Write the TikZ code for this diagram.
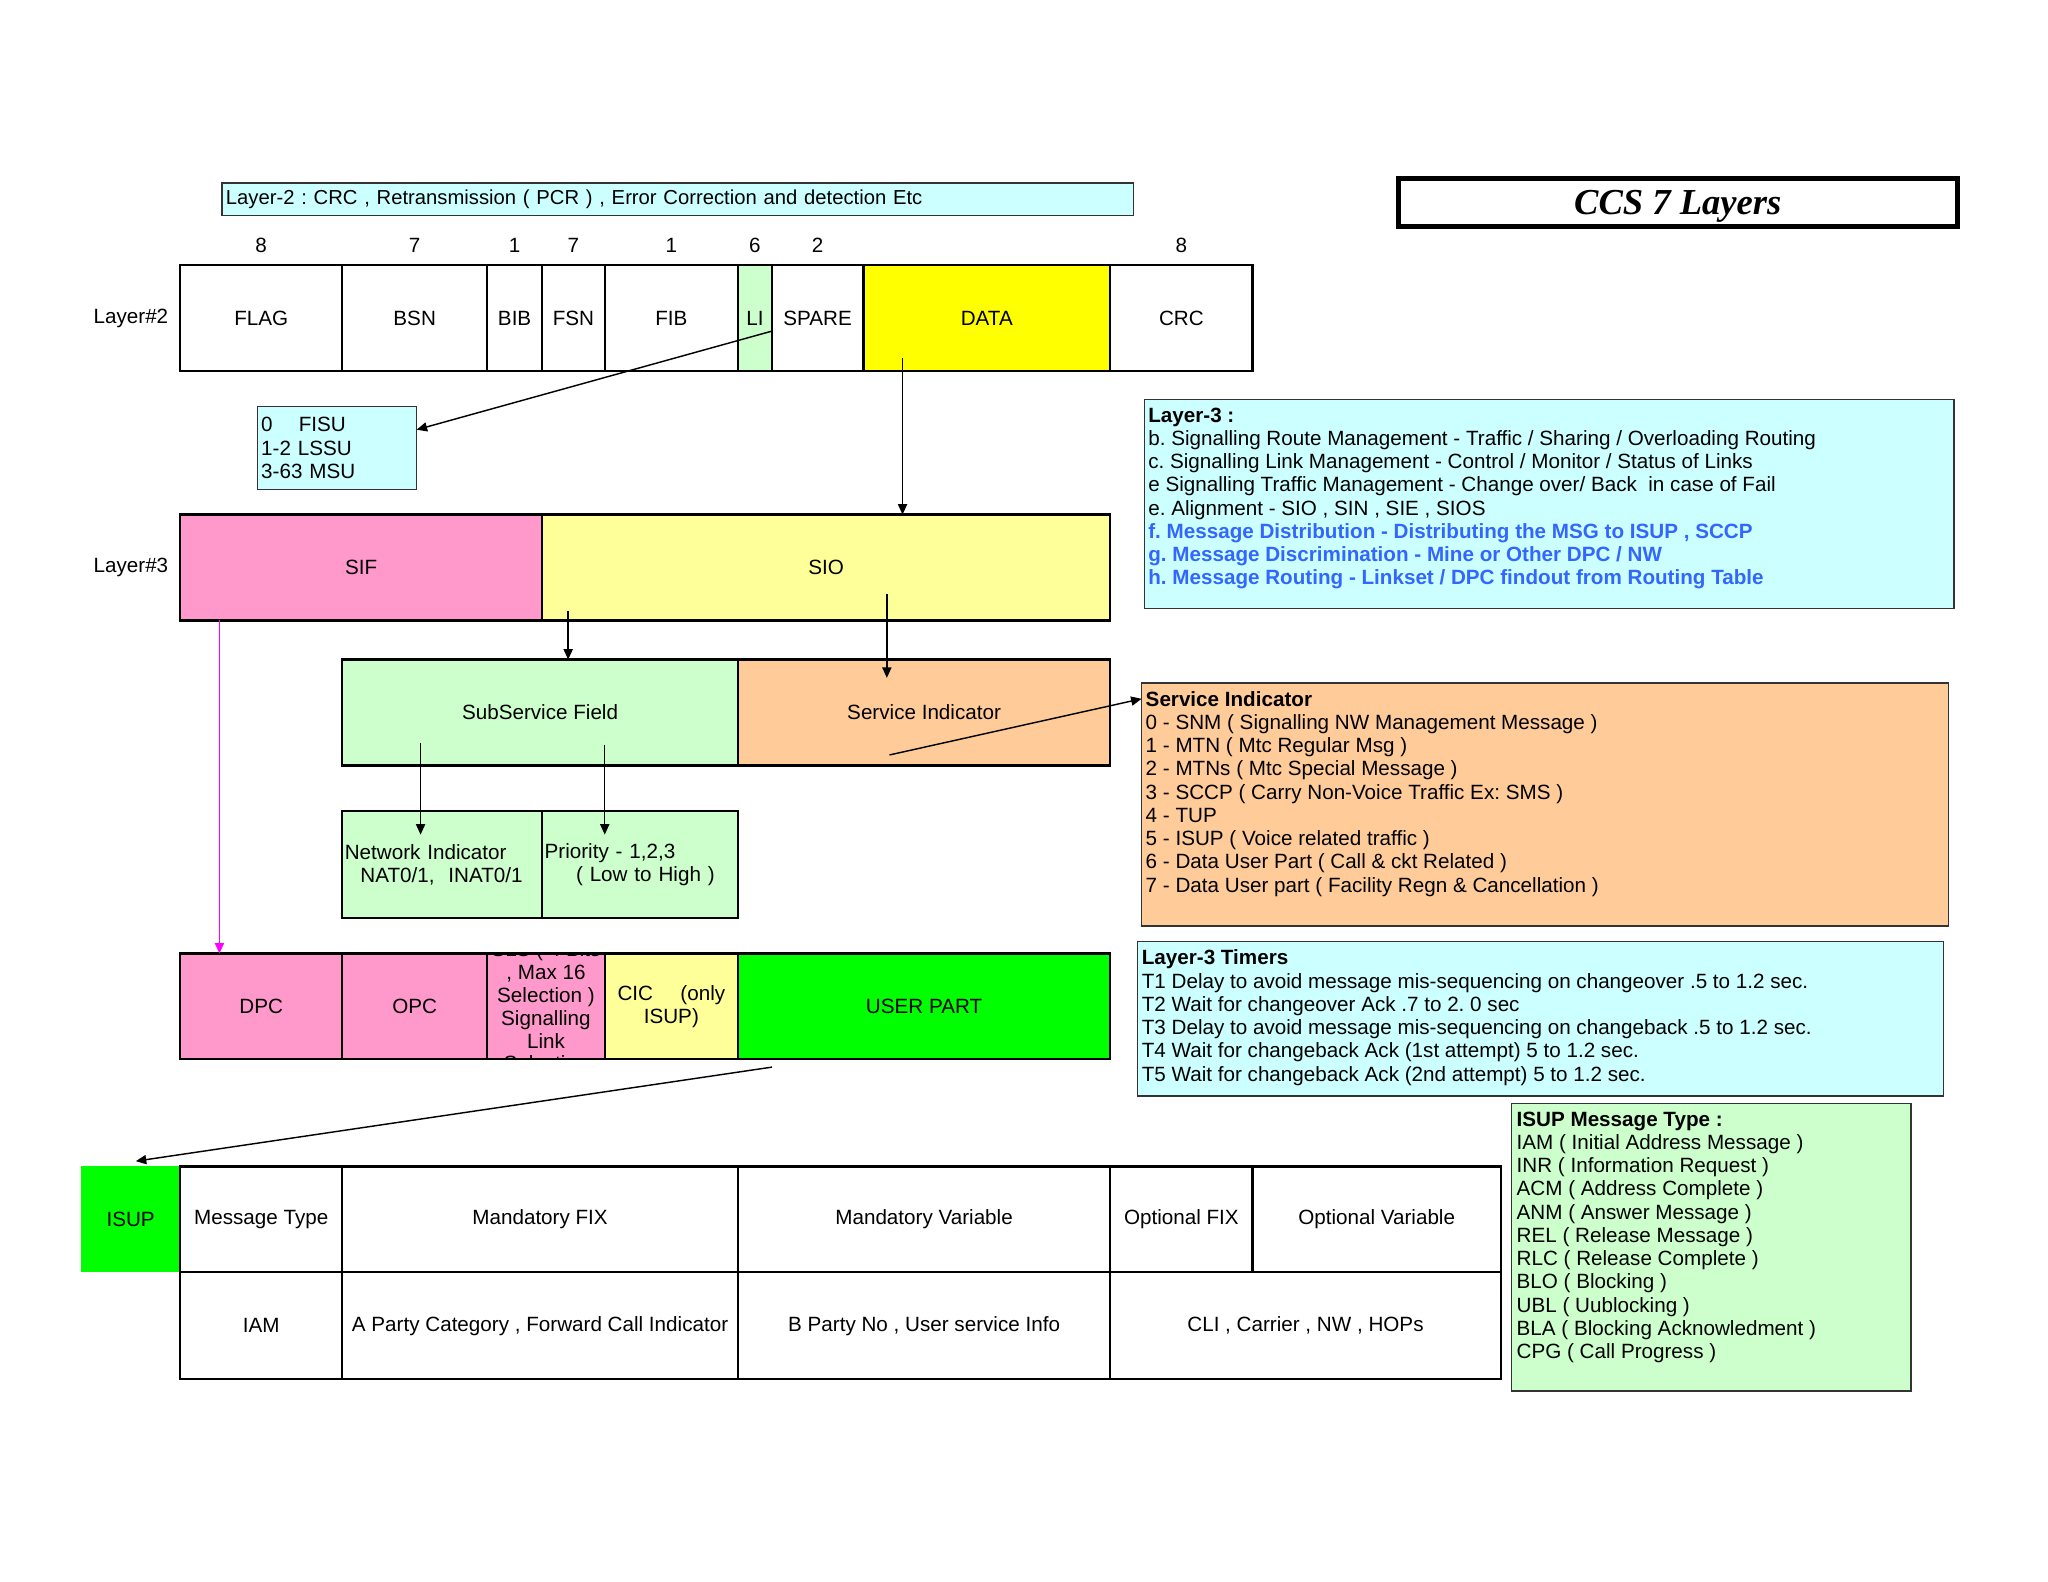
\documentclass[tikz,border=0pt]{standalone}
\usepackage{fontspec}
\setmainfont{Liberation Sans}
\newfontfamily\titlefont{Liberation Serif}
\usetikzlibrary{arrows.meta,positioning,calc}
\definecolor{ccsCyan}{RGB}{204,255,255}
\definecolor{ccsPink}{RGB}{255,153,204}
\definecolor{ccsLemon}{RGB}{255,255,153}
\definecolor{ccsYellow}{RGB}{255,255,0}
\definecolor{ccsMint}{RGB}{204,255,204}
\definecolor{ccsPeach}{RGB}{255,204,153}
\definecolor{ccsGreen}{RGB}{0,255,0}
\definecolor{ccsBlue}{RGB}{51,102,255}
\definecolor{ccsMagenta}{RGB}{255,0,255}
\frenchspacing

\begin{document}
\begin{tikzpicture}[x=1pt, y=-1pt,
      cellbox/.style={rectangle, draw=black, line width=1.8pt, outer sep=0pt,
        inner sep=1pt, minimum height=81pt, align=center,
        font=\fontsize{15.8}{17.6}\selectfont},
      leftcell/.style={cellbox, align=left, inner xsep=2pt},
      notebox/.style={rectangle, draw=black!80, line width=1pt, outer sep=0pt,
        inner sep=0pt, anchor=north west},
      notetext/.style={anchor=north west, align=left, inner sep=0pt,
        font=\fontsize{15.8}{17.8}\selectfont},
      titlebox/.style={rectangle, draw=black, line width=3.5pt, fill=white,
        minimum width=428pt, minimum height=37pt, text depth=0pt,
        font=\titlefont\fontsize{28}{30}\selectfont\bfseries\itshape},
      rowlbl/.style={anchor=east, inner sep=0pt, font=\fontsize{15.8}{17.6}\selectfont},
      bitnum/.style={inner sep=0pt, font=\fontsize{15.8}{17.6}\selectfont},
      arr/.style={-{Triangle[length=8pt,width=7pt]}, line width=1.1pt},
    ]
    \useasboundingbox (0,0) rectangle (1568,1211);

    % ---- Title and Layer-2 note ----
    \node[titlebox] (title) at (1284.5,155) {CCS 7 Layers};
    \node[notebox, fill=ccsCyan, minimum width=698pt, minimum height=25pt,
      text width=692pt, inner xsep=3pt, align=left,
      font=\fontsize{15.5}{17.6}\selectfont] (l2note) at (170,140)
      {Layer-2 : CRC , Retransmission ( PCR ) , Error Correction and detection Etc};

    % ---- Layer#2 signal unit ----
    \node[cellbox, minimum width=124pt, anchor=north west] (flag) at (138,203) {FLAG};
    \node[cellbox, minimum width=111pt, right=0pt of flag] (bsn) {BSN};
    \node[cellbox, minimum width=42pt, right=0pt of bsn] (bib) {BIB};
    \node[cellbox, minimum width=48pt, right=0pt of bib] (fsn) {FSN};
    \node[cellbox, minimum width=102pt, right=0pt of fsn] (fib) {FIB};
    \node[cellbox, minimum width=26pt, fill=ccsMint, right=0pt of fib] (li) {LI};
    \node[cellbox, minimum width=70pt, right=0pt of li] (spare) {SPARE};
    \node[cellbox, minimum width=189pt, fill=ccsYellow, right=0pt of spare] (data) {DATA};
    \node[cellbox, minimum width=109pt, right=0pt of data] (crc) {CRC};
    \node[rowlbl] (l2lbl) at ([xshift=-9pt]flag.west) {Layer\#2};
    \foreach \c/\b in {flag/8, bsn/7, bib/1, fsn/7, fib/1, li/6, spare/2, crc/8}
      \node[bitnum] (bit\c) at ([yshift=15pt]\c.north) {\b};

    \node[notebox, fill=ccsCyan, minimum width=122pt, minimum height=64pt,
      text width=116pt, inner xsep=3pt, align=left,
      font=\fontsize{15.8}{17.8}\selectfont] (fisu) at (197,311)
      {0\hspace{20pt}FISU\\1-2 LSSU\\3-63 MSU};

    % ---- Layer#3 ----
    \node[cellbox, minimum width=277pt, fill=ccsPink, anchor=north west] (sif) at (138,394) {SIF};
    \node[cellbox, minimum width=435pt, fill=ccsLemon, right=0pt of sif] (sio) {SIO};
    \node[rowlbl] (l3lbl) at ([xshift=-9pt]sif.west) {Layer\#3};

    \node[cellbox, minimum width=303pt, fill=ccsMint, anchor=north west] (ssf) at (262,505) {SubService Field};
    \node[cellbox, minimum width=285pt, fill=ccsPeach, right=0pt of ssf] (si) {Service Indicator};

    \node[leftcell, minimum width=153pt, minimum height=82pt, text width=149pt,
      fill=ccsMint, anchor=north west] (ni) at (262,621)
      {Network Indicator\\\hspace*{12pt}NAT0/1,\ \ INAT0/1};
    \node[leftcell, minimum width=150pt, minimum height=82pt, text width=146pt,
      fill=ccsMint, right=0pt of ni] (pri)
      {Priority - 1,2,3\\\hspace*{24pt}( Low to High )};

    % ---- Routing label ----
    \node[cellbox, minimum width=124pt, fill=ccsPink, anchor=north west] (dpc) at (138,730) {DPC};
    \node[cellbox, minimum width=111pt, fill=ccsPink, right=0pt of dpc] (opc) {OPC};
    \node[cellbox, minimum width=90pt, fill=ccsPink, right=0pt of opc] (sls) {};
    \node[cellbox, minimum width=102pt, fill=ccsLemon, right=0pt of sls] (cic) {CIC\hspace{21pt}(only\\ISUP)};
    \node[cellbox, minimum width=285pt, fill=ccsGreen, right=0pt of cic] (upart) {USER PART};
    \begin{scope}
      \clip (sls.north west) rectangle (sls.south east);
      \node[bitnum, align=center, font=\fontsize{15.8}{17.5}\selectfont] (slslbl) at (sls.center)
        {SLS ( 4 Bits\\, Max 16\\Selection )\\Signalling\\Link\\Selection};
    \end{scope}

    % ---- ISUP message ----
    \node[cellbox, draw=none, minimum width=76pt, fill=ccsGreen, anchor=north west] (isup) at (62,893) {ISUP};
    \node[cellbox, minimum width=124pt, anchor=north west] (mtype) at (138,893) {Message Type};
    \node[cellbox, minimum width=303pt, right=0pt of mtype] (mfix) {Mandatory FIX};
    \node[cellbox, minimum width=285pt, right=0pt of mfix] (mvar) {Mandatory Variable};
    \node[cellbox, minimum width=109pt, right=0pt of mvar] (ofix) {Optional FIX};
    \node[cellbox, minimum width=190pt, right=0pt of ofix] (ovar) {Optional Variable};
    \node[cellbox, minimum width=124pt, minimum height=82pt, anchor=north west] (iam) at (138,974) {IAM};
    \node[cellbox, minimum width=303pt, minimum height=82pt, right=0pt of iam] (apc) {A Party Category , Forward Call Indicator};
    \node[cellbox, minimum width=285pt, minimum height=82pt, right=0pt of apc] (bpn) {B Party No , User service Info};
    \node[cellbox, minimum width=299pt, minimum height=82pt, right=0pt of bpn] (cli) {CLI , Carrier , NW , HOPs};

    % ---- Notes on the right ----
    \node[notebox, fill=ccsCyan, minimum width=620pt, minimum height=160pt] (l3box) at (876,306) {};
    \node[notetext] (l3text) at ([shift={(3pt,-6pt)}]l3box.north west)
      {\textbf{Layer-3 :}\\
       b. Signalling Route Management - Traffic / Sharing / Overloading Routing\\
       c. Signalling Link Management - Control / Monitor / Status of Links\\
       e Signalling Traffic Management - Change over/ Back\ \ in case of Fail\\
       e. Alignment - SIO , SIN , SIE , SIOS\\
       \textcolor{ccsBlue}{\textbf{f. Message Distribution - Distributing the MSG to ISUP , SCCP}}\\
       \textcolor{ccsBlue}{\textbf{g. Message Discrimination - Mine or Other DPC / NW}}\\
       \textcolor{ccsBlue}{\textbf{h. Message Routing - Linkset / DPC findout from Routing Table}}};

    \node[notebox, fill=ccsPeach, minimum width=618pt, minimum height=186pt] (sibox) at (874,523) {};
    \node[notetext] (sitext) at ([shift={(3pt,-6pt)}]sibox.north west)
      {\textbf{Service Indicator}\\
       0 - SNM ( Signalling NW Management Message )\\
       1 - MTN ( Mtc Regular Msg )\\
       2 - MTNs ( Mtc Special Message )\\
       3 - SCCP ( Carry Non-Voice Traffic Ex: SMS )\\
       4 - TUP\\
       5 - ISUP ( Voice related traffic )\\
       6 - Data User Part ( Call \& ckt Related )\\
       7 - Data User part ( Facility Regn \& Cancellation )};

    \node[notebox, fill=ccsCyan, minimum width=617pt, minimum height=118pt] (tmbox) at (871,721) {};
    \node[notetext] (tmtext) at ([shift={(3pt,-6pt)}]tmbox.north west)
      {\textbf{Layer-3 Timers}\\
       T1 Delay to avoid message mis-sequencing on changeover .5 to 1.2 sec.\\
       T2 Wait for changeover Ack .7 to 2. 0 sec\\
       T3 Delay to avoid message mis-sequencing on changeback .5 to 1.2 sec.\\
       T4 Wait for changeback Ack (1st attempt) 5 to 1.2 sec.\\
       T5 Wait for changeback Ack (2nd attempt) 5 to 1.2 sec.};

    \node[notebox, fill=ccsMint, minimum width=306pt, minimum height=220pt] (mtbox) at (1157,845) {};
    \node[notetext] (mttext) at ([shift={(4pt,-6pt)}]mtbox.north west)
      {\textbf{ISUP Message Type :}\\
       IAM ( Initial Address Message )\\
       INR ( Information Request )\\
       ACM ( Address Complete )\\
       ANM ( Answer Message )\\
       REL ( Release Message )\\
       RLC ( Release Complete )\\
       BLO ( Blocking )\\
       UBL ( Uublocking )\\
       BLA ( Blocking Acknowledment )\\
       CPG ( Call Progress )};

    % ---- Connectors ----
    \coordinate (liout) at ([yshift=-10pt]spare.west);
    \coordinate (dataout) at ([shift={(30pt,10pt)}]data.south west);
    \coordinate (sioout1) at ([shift={(20pt,7pt)}]sio.south west);
    \coordinate (sioout2) at ([shift={(-171pt,20pt)}]sio.south east);
    \coordinate (siout) at ([shift={(116pt,8pt)}]si.south west);
    \coordinate (ssfout1) at ([shift={(60pt,17pt)}]ssf.south west);
    \coordinate (ssfout2) at ([shift={(201pt,16pt)}]ssf.south west);
    \coordinate (sifout) at ([xshift=30pt]sif.south west);
    \coordinate (upout) at ([shift={(26pt,-6pt)}]upart.south west);

    \draw[arr] (liout) -- ([yshift=14pt]fisu.east);
    \draw[arr] (dataout) -- (dataout |- sio.north);
    \draw[arr] (sioout1) -- (sioout1 |- ssf.north);
    \draw[arr] (sioout2) -- ($(sioout2 |- si.north)+(0,14)$);
    \draw[arr] (siout) -- ([yshift=-12pt]sibox.north west);
    \draw[arr] (ssfout1) -- ($(ssfout1 |- ni.north)+(0,18)$);
    \draw[arr] (ssfout2) -- ($(ssfout2 |- pri.north)+(0,18)$);
    \draw[arr, draw=ccsMagenta] (sifout) -- (sifout |- dpc.north);
    \draw[arr] (upout) -- ([shift={(4pt,4pt)}]isup.north);
  \end{tikzpicture}
\end{document}
